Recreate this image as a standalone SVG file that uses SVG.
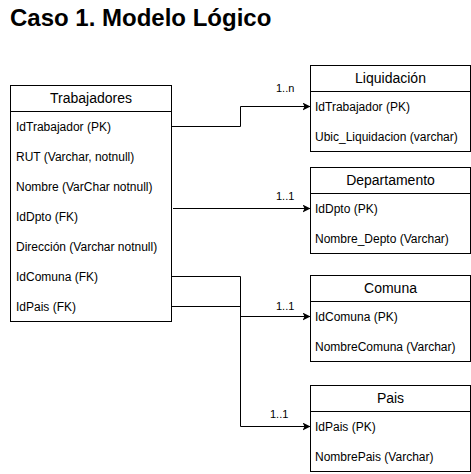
<svg xmlns="http://www.w3.org/2000/svg" width="471" height="474" viewBox="0 0 471 474">
<style>
.box{fill:#fff;stroke:#000;stroke-width:1}
.hd{font-family:"Liberation Sans",Arial,sans-serif;font-size:14px;text-anchor:middle;fill:#000}
.rw{font-family:"Liberation Sans",Arial,sans-serif;font-size:12px;fill:#000}
.lb{font-family:"Liberation Sans",Arial,sans-serif;font-size:11px;fill:#000}
.cn{fill:none;stroke:#000;stroke-width:1}
</style>
<defs>
<marker id="ar" viewBox="0 0 10 10" refX="10" refY="5" markerWidth="8" markerHeight="8" markerUnits="userSpaceOnUse" orient="auto">
<path d="M0,0 L10,5 L0,10 L2.5,5 Z" fill="#000"/>
</marker>
</defs>
<rect width="471" height="474" fill="#fff"/>
<text x="10" y="26" font-family="'Liberation Sans',Arial,sans-serif" font-size="24" font-weight="bold" fill="#000">Caso 1. Modelo Lógico</text>

<g id="conectores">
<path class="cn" d="M171.5,126.5 H240.5 V106.5 H310.5" marker-end="url(#ar)"/>
<path class="cn" d="M173,208.5 H310.5" marker-end="url(#ar)"/>
<path class="cn" d="M171.5,276.5 H240.5 V316.5 H310.5" marker-end="url(#ar)"/>
<path class="cn" d="M171.5,306.5 H240.5 V426.5 H310.5" marker-end="url(#ar)"/>
<text class="lb" x="276" y="92">1..n</text>
<text class="lb" x="276" y="200">1..1</text>
<text class="lb" x="276" y="310">1..1</text>
<text class="lb" x="270" y="418">1..1</text>
</g>

<g id="trabajadores">
<rect class="box" x="10.5" y="85.5" width="161" height="236"/>
<line class="cn" x1="10.5" y1="111.5" x2="171.5" y2="111.5"/>
<text class="hd" x="91" y="103">Trabajadores</text>
<text class="rw" x="16" y="131">IdTrabajador (PK)</text>
<text class="rw" x="16" y="161">RUT (Varchar, notnull)</text>
<text class="rw" x="16" y="191">Nombre (VarChar notnull)</text>
<text class="rw" x="16" y="221">IdDpto (FK)</text>
<text class="rw" x="16" y="251">Dirección (Varchar notnull)</text>
<text class="rw" x="16" y="281">IdComuna (FK)</text>
<text class="rw" x="16" y="311">IdPais (FK)</text>
</g>

<g id="liquidacion">
<rect class="box" x="310.5" y="65.5" width="160" height="86"/>
<line class="cn" x1="310.5" y1="91.5" x2="470.5" y2="91.5"/>
<text class="hd" x="390.5" y="83">Liquidación</text>
<text class="rw" x="315" y="111">IdTrabajador (PK)</text>
<text class="rw" x="315" y="141">Ubic_Liquidacion (varchar)</text>
</g>

<g id="departamento">
<rect class="box" x="310.5" y="167.5" width="160" height="86"/>
<line class="cn" x1="310.5" y1="193.5" x2="470.5" y2="193.5"/>
<text class="hd" x="390.5" y="185">Departamento</text>
<text class="rw" x="315" y="213">IdDpto (PK)</text>
<text class="rw" x="315" y="243">Nombre_Depto (Varchar)</text>
</g>

<g id="comuna">
<rect class="box" x="310.5" y="275.5" width="160" height="86"/>
<line class="cn" x1="310.5" y1="301.5" x2="470.5" y2="301.5"/>
<text class="hd" x="390.5" y="293">Comuna</text>
<text class="rw" x="315" y="321">IdComuna (PK)</text>
<text class="rw" x="315" y="351">NombreComuna (Varchar)</text>
</g>

<g id="pais">
<rect class="box" x="310.5" y="385.5" width="160" height="86"/>
<line class="cn" x1="310.5" y1="411.5" x2="470.5" y2="411.5"/>
<text class="hd" x="390.5" y="403">Pais</text>
<text class="rw" x="315" y="431">IdPais (PK)</text>
<text class="rw" x="315" y="461">NombrePais (Varchar)</text>
</g>
</svg>
